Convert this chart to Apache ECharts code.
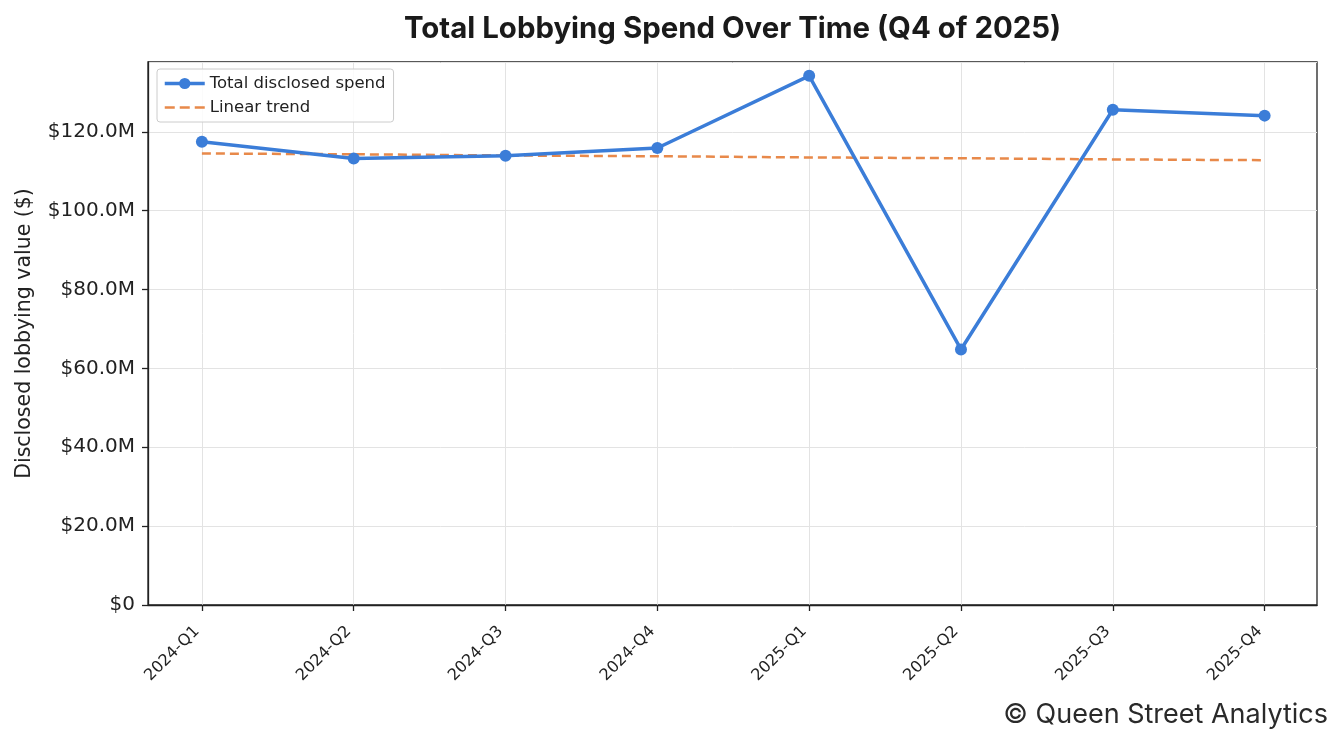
<!DOCTYPE html>
<html><head><meta charset="utf-8">
<script src="https://cdn.jsdelivr.net/npm/echarts@6/dist/echarts.min.js"></script>
<style>html,body{margin:0;padding:0;background:#fff}#c{width:1343px;height:744px}</style>
</head><body><div id="c"></div>
<script>
const categories = ['2024-Q1','2024-Q2','2024-Q3','2024-Q4','2025-Q1','2025-Q2','2025-Q3','2025-Q4'];
const spendM = [117.5, 113.2, 113.9, 115.9, 134.2, 64.8, 125.6, 124.1];
const trendM = [114.5, 114.3, 114.0, 113.8, 113.5, 113.3, 113.0, 112.8];
const yTicks = [0, 20, 40, 60, 80, 100, 120];

const positions = categories.map((c, i) => i);
const chart = echarts.init(document.getElementById('c'));
const axisFont = "'DejaVu Sans', sans-serif";
chart.setOption({
  animation: false,
  title: { text: 'Total Lobbying Spend Over Time (Q4 of 2025)', left: 399, top: 10,
    textStyle: { fontFamily: 'Inter', fontWeight: 'bold', fontSize: 29.4, color: '#1a1a1a' } },
  grid: { left: 148, right: 26, top: 62, bottom: 139, show: true, borderColor: '#222', borderWidth: 1.3, containLabel: false },
  legend: {
    left: 157, top: 69, orient: 'vertical', itemGap: 7, itemWidth: 40, itemHeight: 14,
    padding: [6, 8, 6, 6],
    backgroundColor: 'rgba(255,255,255,0.85)', borderColor: '#ccc', borderWidth: 1, borderRadius: 3,
    textStyle: { fontFamily: axisFont, fontSize: 16.5, color: '#222' },
    lineStyle: { width: 3.5 },
    data: [
      { name: 'Total disclosed spend' },
      { name: 'Linear trend', icon: 'path://M0,0h10v2.5h-10z M15,0h10v2.5h-10z M30,0h10v2.5h-10z' }
    ]
  },
  xAxis: {
    type: 'value', min: -0.355, max: 7.345,
    axisLine: { show: true, onZero: false, lineStyle: { color: '#222', width: 1.3 } },
    axisTick: { show: true, length: 6, customValues: positions, lineStyle: { color: '#222', width: 1.3 } },
    splitLine: { show: true, lineStyle: { color: '#e3e3e3', width: 1 } },
    axisLabel: { rotate: 45, fontFamily: axisFont, fontSize: 16, color: '#222', margin: 19,
      padding: [0, 7, 0, 0],
      customValues: positions,
      formatter: v => categories[Math.round(v)] || '' },
  },
  yAxis: {
    type: 'value', min: 0, max: 137.7, interval: 20,
    name: 'Disclosed lobbying value ($)', nameLocation: 'middle', nameGap: 113,
    nameTextStyle: { fontFamily: axisFont, fontSize: 20.5, color: '#222' },
    axisLine: { show: true, onZero: false, lineStyle: { color: '#222', width: 1.3 } },
    axisTick: { show: true, length: 6, lineStyle: { color: '#222', width: 1.3 } },
    splitLine: { show: true, lineStyle: { color: '#e3e3e3', width: 1 } },
    axisLabel: { fontFamily: axisFont, fontSize: 20, color: '#222', margin: 13, showMaxLabel: false,
      formatter: v => v === 0 ? '$0' : '$' + v.toFixed(1) + 'M' }
  },
  graphic: [{ type: 'text', right: 15, bottom: 16,
    style: { text: '© Queen Street Analytics', fontFamily: 'Inter', fontSize: 27, fill: '#2a2a2a' } }],
  series: [
    { name: 'Linear trend', type: 'line', data: trendM.map((v,i)=>[i,v]), symbol: 'none', z: 2,
      lineStyle: { color: '#e8894a', width: 2.5, type: [9, 5] }, itemStyle: { color: '#e8894a' } },
    { name: 'Total disclosed spend', type: 'line', data: spendM.map((v,i)=>[i,v]), symbol: 'circle', symbolSize: 12, z: 3,
      lineStyle: { color: '#3b7dd8', width: 3.5 }, itemStyle: { color: '#3b7dd8' } }
  ]
});
</script></body></html>
